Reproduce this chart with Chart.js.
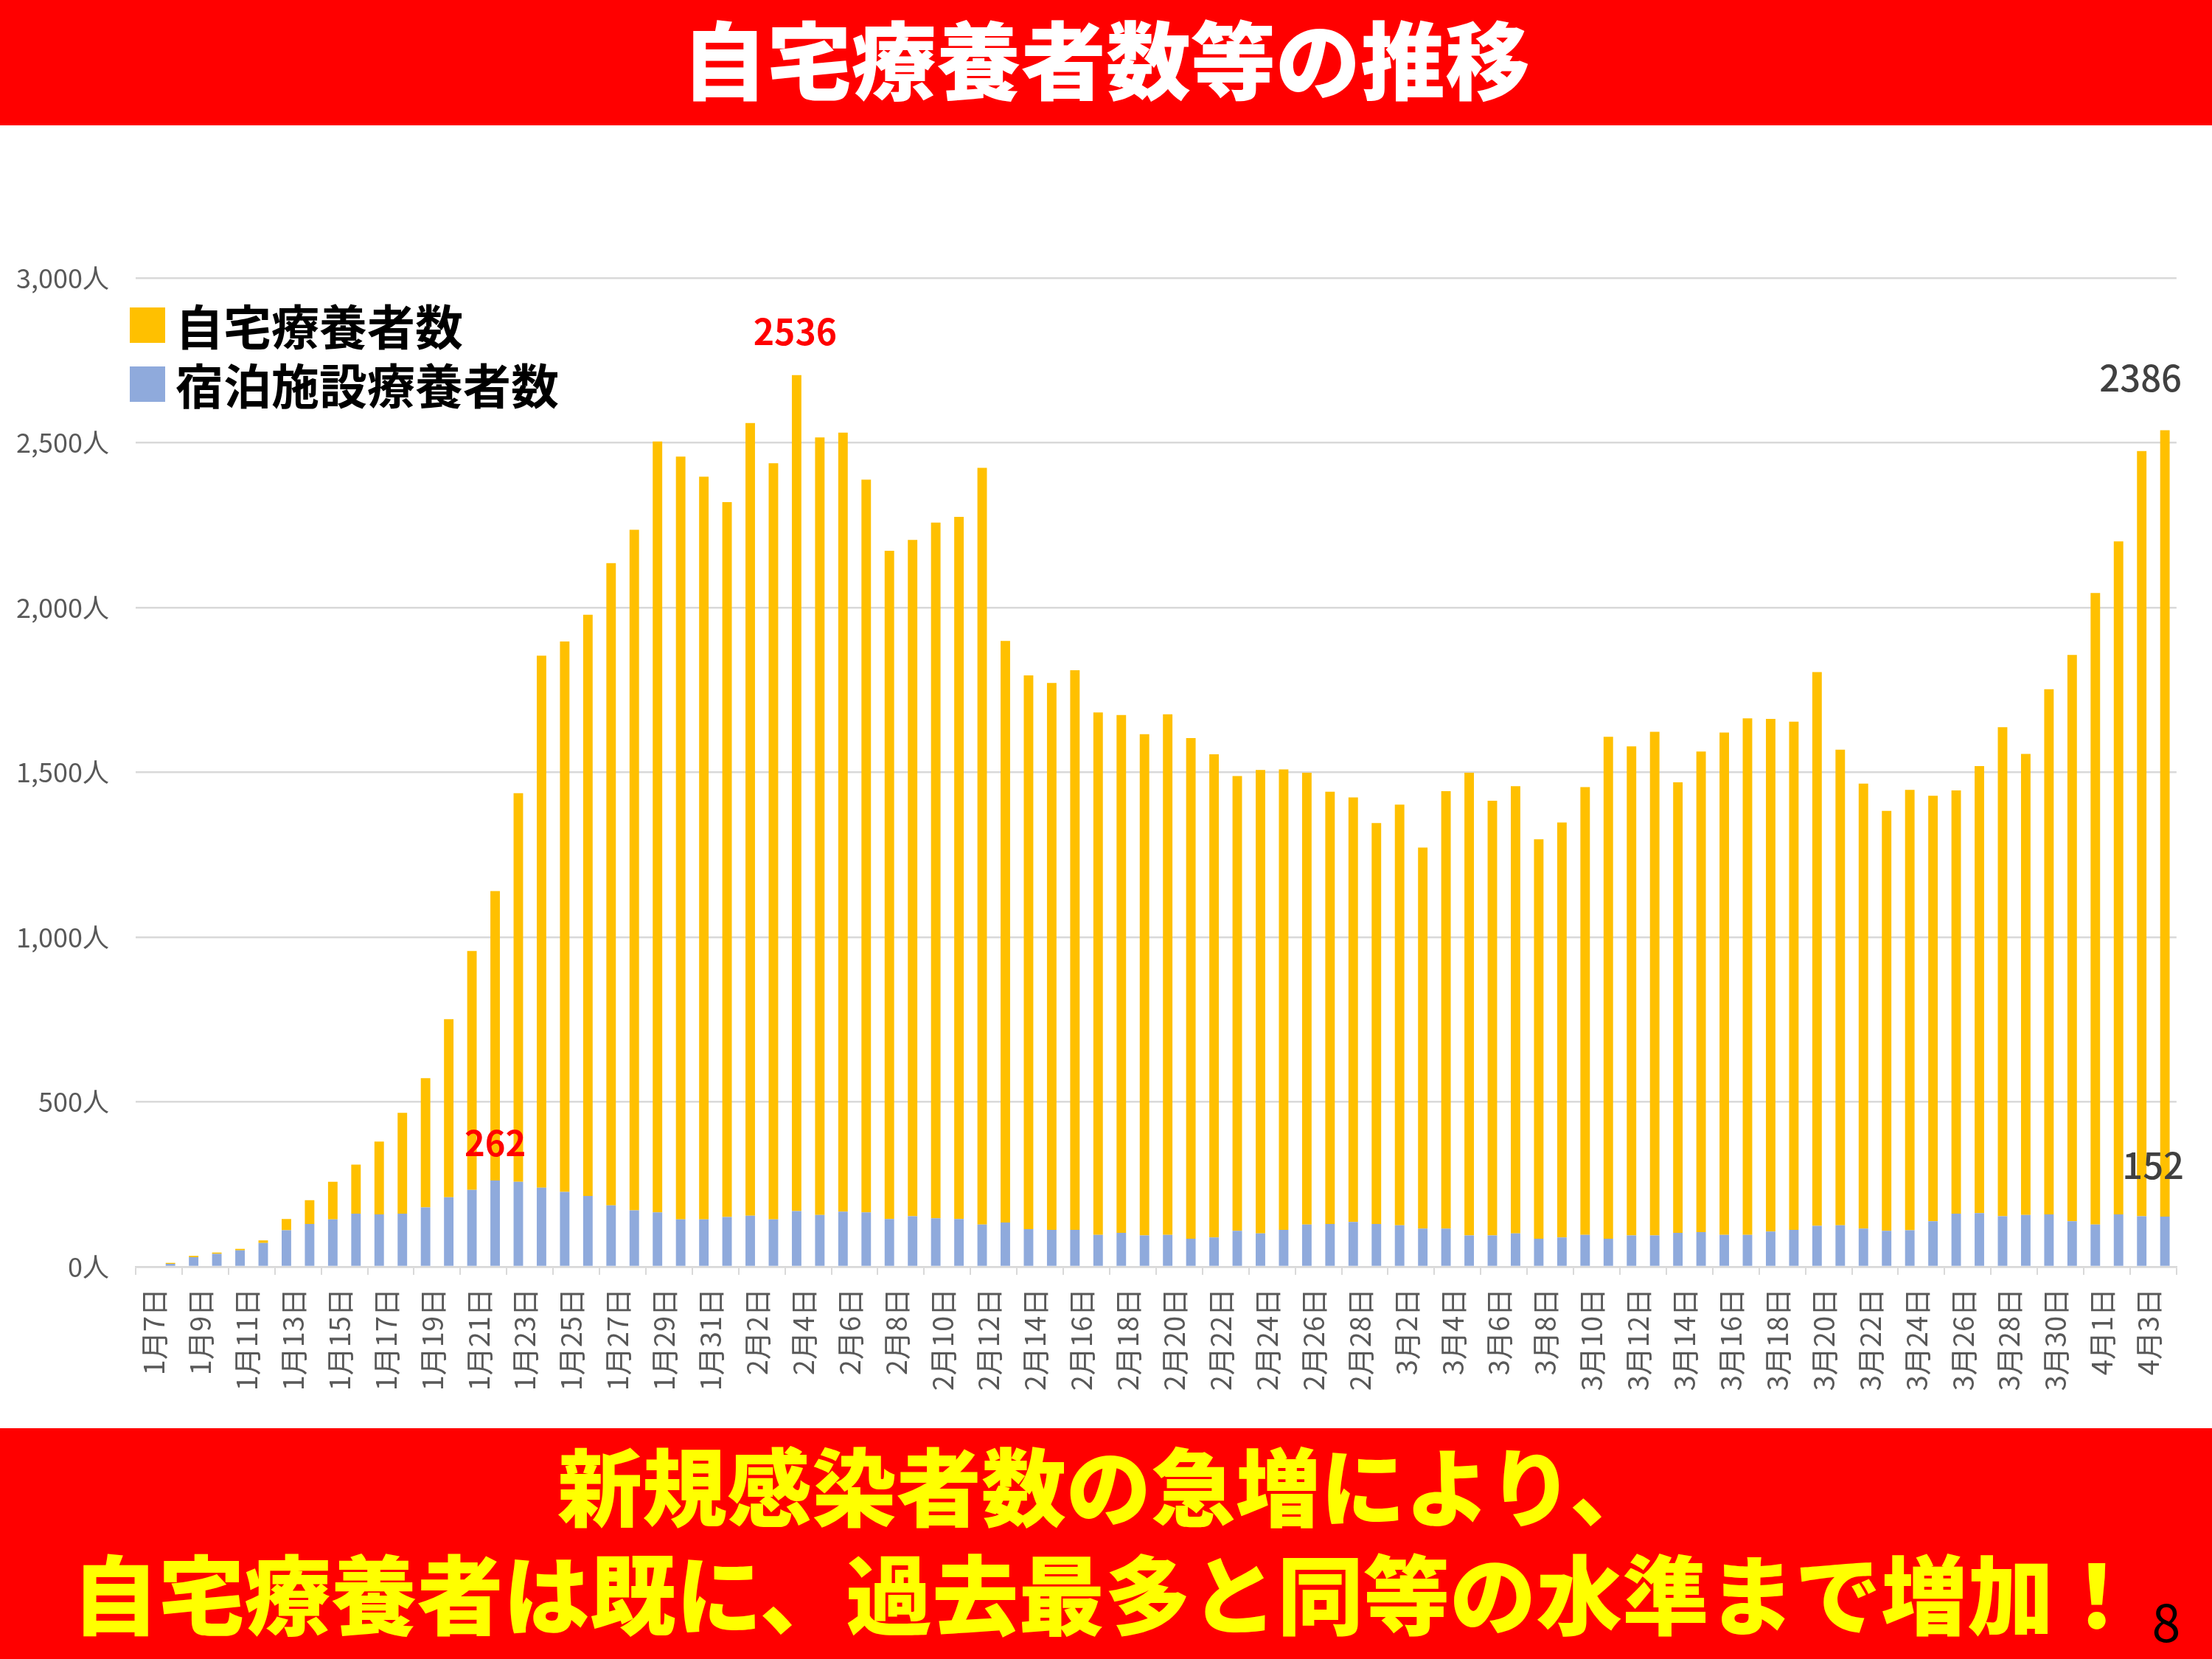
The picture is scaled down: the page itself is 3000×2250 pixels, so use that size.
<!DOCTYPE html>
<html lang="ja">
<head>
<meta charset="utf-8">
<title>自宅療養者数等の推移</title>
<script src="https://cdn.jsdelivr.net/npm/chart.js@4.4.1/dist/chart.umd.min.js"></script>
<style>
  html, body { margin: 0; padding: 0; background: #fff; }
  #page { position: relative; width: 3000px; height: 2250px; overflow: hidden; font-family: "Noto Sans CJK JP", sans-serif; }
  .band { position: absolute; left: 0; width: 3000px; background: #ff0000; }
  #head { top: 0; height: 170px; }
  #head h1 { position: relative; top: -9px; margin: 0; font-size: 115px; font-weight: 900; color: #fff; text-align: center; line-height: 170px; }
  #foot { top: 1937px; height: 313px; }
  .msg { position: absolute; left: 0; width: 3000px; text-align: center; color: #ffff00; font-weight: 900; line-height: 140px; white-space: nowrap; }
  #line1 { top: 4px; font-size: 115px; }
  #line2 { top: 150px; font-size: 117px; }
  #pageNo { position: absolute; left: 2908px; top: 225px; width: 60px; text-align: center; font-size: 70px; line-height: 70px; color: #000; }
  #chartBox { position: absolute; left: 0; top: 170px; width: 3000px; height: 1767px; }
</style>
</head>
<body>
<div id="page">
  <div id="head" class="band"><h1>自宅療養者数等の推移</h1></div>
  <div id="chartBox"><canvas id="myChart"></canvas></div>
  <div id="foot" class="band">
    <div id="line1" class="msg">新規感染者数の急増により、</div>
    <div id="line2" class="msg">自宅療養者は既に、過去最多と同等の水準まで増加！</div>
    <div id="pageNo">8</div>
  </div>
</div>
<script>
// categories: 1月7日 .. 4月4日
const dates = [
  '1月7日','1月8日','1月9日','1月10日','1月11日','1月12日','1月13日','1月14日','1月15日','1月16日',
  '1月17日','1月18日','1月19日','1月20日','1月21日','1月22日','1月23日','1月24日','1月25日','1月26日',
  '1月27日','1月28日','1月29日','1月30日','1月31日',
  '2月1日','2月2日','2月3日','2月4日','2月5日','2月6日','2月7日','2月8日','2月9日','2月10日',
  '2月11日','2月12日','2月13日','2月14日','2月15日','2月16日','2月17日','2月18日','2月19日','2月20日',
  '2月21日','2月22日','2月23日','2月24日','2月25日','2月26日','2月27日','2月28日',
  '3月1日','3月2日','3月3日','3月4日','3月5日','3月6日','3月7日','3月8日','3月9日','3月10日',
  '3月11日','3月12日','3月13日','3月14日','3月15日','3月16日','3月17日','3月18日','3月19日','3月20日',
  '3月21日','3月22日','3月23日','3月24日','3月25日','3月26日','3月27日','3月28日','3月29日','3月30日',
  '3月31日',
  '4月1日','4月2日','4月3日','4月4日'
];

// 自宅療養者数 (yellow, stacked on top)
const homeCare = [
  0,
  3, 4, 4, 4, 8, 34, 72, 114, 149, 221,
  306, 392, 540, 725, 878, 1179, 1614, 1670, 1763, 1949,
  2065, 2339, 2314, 2253, 2169, 2405, 2294, 2536, 2359, 2364,
  2223, 2027, 2052, 2111, 2130, 2296, 1765, 1680, 1659, 1698,
  1585, 1571, 1521, 1579, 1519, 1466, 1380, 1406, 1397, 1371,
  1311, 1288, 1216, 1276, 1156, 1327, 1404, 1319, 1357, 1212,
  1259, 1358, 1523, 1484, 1528, 1367, 1458, 1524, 1567, 1555,
  1542, 1680, 1443, 1350, 1274, 1336, 1291, 1284, 1356, 1484,
  1399, 1593, 1718, 1916, 2042, 2322, 2386
];

// 宿泊施設療養者数 (blue, bottom)
const hotelCare = [
  0,
  9, 29, 39, 50, 72, 111, 130, 144, 161, 159,
  161, 180, 211, 233, 262, 258, 240, 227, 215, 186,
  171, 165, 144, 144, 151, 155, 144, 169, 157, 167,
  165, 145, 153, 147, 145, 128, 134, 114, 112, 112,
  97, 103, 95, 97, 85, 89, 109, 101, 112, 128,
  130, 136, 130, 126, 116, 116, 95, 95, 101, 85,
  89, 97, 85, 95, 95, 103, 105, 97, 97, 107,
  112, 124, 126, 116, 109, 111, 138, 161, 163, 153,
  157, 159, 138, 128, 159, 153, 152
];

const yTickValues = [0, 500, 1000, 1500, 2000, 2500, 3000];

// which points get a value written next to them: [series, date]
const callouts = [
  ['宿泊施設療養者数', '1月22日'],
  ['自宅療養者数', '2月4日'],
  ['自宅療養者数', '4月4日'],
  ['宿泊施設療養者数', '4月4日']
];

const calloutStyle = [
  { dx: 0,   dy: -51, color: '#ff0000', font: 'bold 47px "Noto Sans CJK JP"' },
  { dx: -2,  dy: -59, color: '#ff0000', font: 'bold 48px "Noto Sans CJK JP"' },
  { dx: -33, dy: -71, color: '#404040', font: '500 49px "Noto Sans CJK JP"' },
  { dx: -16, dy: -70, color: '#404040', font: '500 49px "Noto Sans CJK JP"' }
];

const calloutPlugin = {
  id: 'callouts',
  afterDatasetsDraw(chart) {
    const ctx = chart.ctx;
    callouts.forEach(function(c, k) {
      const di = chart.data.datasets.findIndex(d => d.label === c[0]);
      const i = chart.data.labels.indexOf(c[1]);
      const bar = chart.getDatasetMeta(di).data[i];
      const s = calloutStyle[k];
      ctx.save();
      ctx.font = s.font;
      ctx.fillStyle = s.color;
      ctx.textAlign = 'center';
      ctx.textBaseline = 'middle';
      ctx.fillText(String(chart.data.datasets[di].data[i]), bar.x + s.dx, bar.y + s.dy);
      ctx.restore();
    });
  }
};

// legend drawn by hand, top series first
const legendPlugin = {
  id: 'bigLegend',
  afterDraw(chart) {
    const ctx = chart.ctx;
    const sets = chart.data.datasets.slice().reverse();
    ctx.save();
    ctx.font = 'bold 65px "Noto Sans CJK JP"';
    ctx.textBaseline = 'middle';
    ctx.textAlign = 'left';
    sets.forEach(function(ds, k) {
      const top = 247 + k * 80;
      ctx.fillStyle = ds.backgroundColor;
      ctx.fillRect(176, top, 48, 48);
      ctx.fillStyle = '#000';
      ctx.fillText(ds.label, 238, top + 26);
    });
    ctx.restore();
  }
};

const init = function() {
  var ctx = document.getElementById('myChart').getContext('2d');
  var chart = new Chart(ctx, {
    type: 'bar',
    data: {
      labels: dates,
      datasets: [{
        label: '宿泊施設療養者数',
        backgroundColor: '#8faadc',
        data: hotelCare
      }, {
        label: '自宅療養者数',
        backgroundColor: '#ffc000',
        data: homeCare
      }]
    },
    options: {
      responsive: true,
      maintainAspectRatio: false,
      animation: false,
      devicePixelRatio: 1,
      datasets: {
        bar: { barPercentage: 0.41, categoryPercentage: 1.0 }
      },
      layout: {
        padding: { top: 207, left: 0, right: 45, bottom: 0 }
      },
      plugins: {
        legend: { display: false },
        tooltip: { enabled: false }
      },
      scales: {
        x: {
          stacked: true,
          afterFit: function(scale) { scale.height = 219; },
          grid: {
            drawOnChartArea: false,
            drawTicks: true,
            tickLength: 11,
            lineWidth: 2,
            color: function(c) {
              return (c.index === undefined || c.index % 2 === 0) ? '#d9d9d9' : 'rgba(0,0,0,0)';
            }
          },
          border: { display: true, color: '#d9d9d9', width: 2.5 },
          ticks: {
            autoSkip: false,
            minRotation: 90,
            maxRotation: 90,
            padding: 18,
            labelOffset: 9,
            color: '#595959',
            font: { family: '"Noto Sans CJK JP"', size: 38 },
            callback: function(v, i) { return i % 2 === 0 ? dates[i] : ''; }
          }
        },
        y: {
          stacked: true,
          min: 0,
          max: 3000,
          afterBuildTicks: function(scale) {
            scale.ticks = yTickValues.map(v => ({ value: v }));
          },
          afterFit: function(scale) { scale.width = 184; },
          grid: { color: '#d9d9d9', lineWidth: 2.5, drawTicks: false },
          border: { display: false },
          ticks: {
            padding: 36,
            color: '#595959',
            font: { family: '"Noto Sans CJK JP"', size: 36 },
            callback: function(v) { return v.toLocaleString('en-US') + '人'; }
          }
        }
      }
    },
    plugins: [calloutPlugin, legendPlugin]
  });
};

document.addEventListener("DOMContentLoaded", init);
</script>
</body>
</html>
